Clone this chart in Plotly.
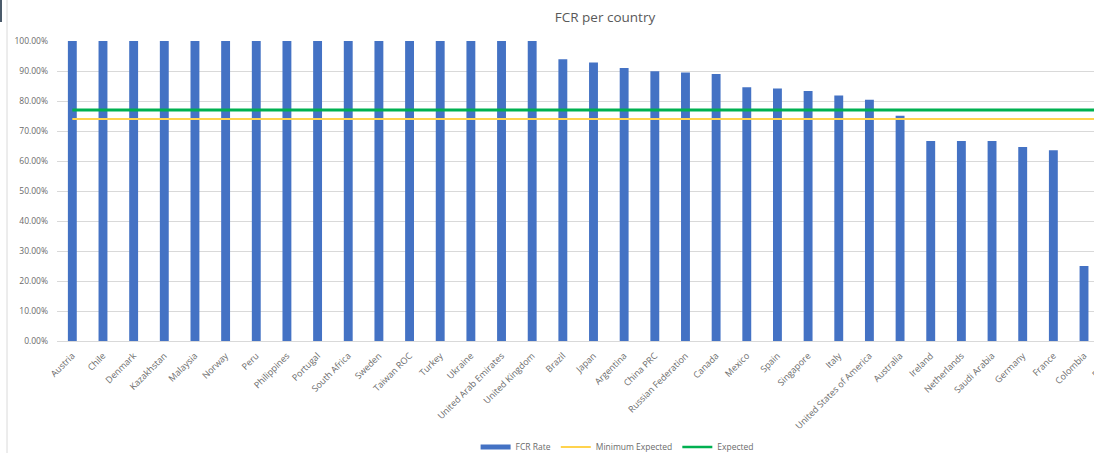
import plotly.graph_objects as go

# FCR rate per country (share of first-contact resolutions)
countries = [
    "Austria", "Chile", "Denmark", "Kazakhstan", "Malaysia", "Norway", "Peru",
    "Philippines", "Portugal", "South Africa", "Sweden", "Taiwan ROC", "Turkey",
    "Ukraine", "United Arab Emirates", "United Kingdom", "Brazil", "Japan",
    "Argentina", "China PRC", "Russian Federation", "Canada", "Mexico", "Spain",
    "Singapore", "Italy", "United States of America", "Australia", "Ireland",
    "Netherlands", "Saudi Arabia", "Germany", "France", "Colombia", "Finland",
]
fcr_rate = [
    1.0, 1.0, 1.0, 1.0, 1.0, 1.0, 1.0,
    1.0, 1.0, 1.0, 1.0, 1.0, 1.0,
    1.0, 1.0, 1.0, 0.939, 0.928,
    0.910, 0.899, 0.895, 0.890, 0.846, 0.842,
    0.833, 0.818, 0.804, 0.751, 0.667,
    0.667, 0.667, 0.647, 0.636, 0.25, 0.20,
]
minimum_expected = [0.74] * len(countries)
expected = [0.77] * len(countries)

y_ticks = [0.0, 0.1, 0.2, 0.3, 0.4, 0.5, 0.6, 0.7, 0.8, 0.9, 1.0]
y_tick_labels = ["0.00%", "10.00%", "20.00%", "30.00%", "40.00%", "50.00%",
                 "60.00%", "70.00%", "80.00%", "90.00%", "100.00%"]

BLUE = "#4472C4"
GOLD = "#FFD34D"
GREEN = "#00B050"
TEXT = "#6B6B6B"
GRID = "#D9D9D9"
FONT = "Open Sans, Lato, sans-serif"

fig = go.Figure()
fig.add_trace(go.Bar(
    x=countries, y=fcr_rate, name="FCR Rate",
    marker=dict(color=BLUE, line=dict(width=0)),
    showlegend=False,
))
fig.add_trace(go.Scatter(
    x=countries, y=minimum_expected, name="Minimum Expected", mode="lines",
    line=dict(color=GOLD, width=2.2), showlegend=False,
))
fig.add_trace(go.Scatter(
    x=countries, y=expected, name="Expected", mode="lines",
    line=dict(color=GREEN, width=2.8), showlegend=False,
))

# legend entries (Excel-style swatches)
for name, color, width in [("FCR Rate", BLUE, 5), ("Minimum Expected", GOLD, 2),
                           ("Expected", GREEN, 2.5)]:
    fig.add_trace(go.Scatter(
        x=[None], y=[None], name=name, mode="lines",
        line=dict(color=color, width=width), showlegend=True,
    ))

n = len(countries)
fig.update_layout(
    width=1210, height=453,
    margin=dict(l=57, r=80, t=41, b=112, pad=0),
    paper_bgcolor="white", plot_bgcolor="white",
    font=dict(family=FONT, color=TEXT, size=9),
    title=dict(text="FCR per country", x=0.5, xref="container", xanchor="center",
               y=1 - 17 / 453, yref="container", yanchor="middle",
               font=dict(family=FONT, size=13.5, color="#595959")),
    bargap=0.71,
    showlegend=True,
    legend=dict(orientation="h", xref="container", x=0.51, xanchor="center",
                yref="container", y=6 / 453, yanchor="middle",
                font=dict(family=FONT, size=8.5, color=TEXT),
                itemwidth=30, traceorder="normal", bgcolor="rgba(0,0,0,0)"),
    xaxis=dict(type="category", range=[-0.5, n - 0.5], tickangle=-45,
               automargin=False,
               showgrid=False, showline=True, linecolor=GRID, linewidth=1,
               ticks="", ticklabelstandoff=5,
               tickfont=dict(family=FONT, size=9, color=TEXT),
               fixedrange=True),
    yaxis=dict(range=[0, 1], tickvals=y_ticks, ticktext=y_tick_labels,
               automargin=False,
               showgrid=True, gridcolor=GRID, gridwidth=1, zeroline=False,
               showline=False, ticks="", ticklabelstandoff=8,
               tickfont=dict(family=FONT, size=8.5, color=TEXT),
               fixedrange=True),
    shapes=[
        # window frame edges at the left of the capture
        dict(type="line", xref="paper", yref="paper",
             x0=(7 - 57) / 1073, x1=(7 - 57) / 1073, y0=(341 - 0) / 300,
             y1=(341 - 453) / 300, line=dict(color="#DADADA", width=1)),
        dict(type="rect", xref="paper", yref="paper",
             x0=(0 - 57) / 1073, x1=(2 - 57) / 1073, y0=(341 - 0) / 300,
             y1=(341 - 22) / 300, fillcolor="#4B5B6B", line=dict(width=0)),
    ],
)

fig.write_html(
    "out.html",
    config={"displayModeBar": False},
    post_script="document.documentElement.style.overflow='hidden';"
                "document.body.style.overflow='hidden';",
)
